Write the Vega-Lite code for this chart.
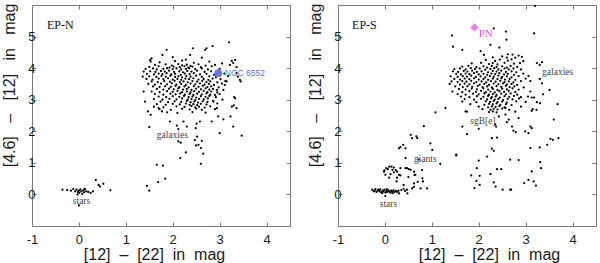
{
"$schema":"https://vega.github.io/schema/vega-lite/v6.json",
"padding":{"left":1,"top":2,"right":0,"bottom":0},
"spacing":16,
"background":"white",
"config":{"view":{"stroke":"#7a7a7a","strokeWidth":1},
"axis":{"grid":false,"domain":false,"tickSize":-4,"tickColor":"#7a7a7a","labelFont":"Liberation Sans","labelFontSize":13,"labelColor":"#1a1a1a","titleFont":"Liberation Sans","titleFontSize":16,"titleFontWeight":"normal","titleColor":"#1a1a1a","labelFlush":false,"labelOverlap":false,"labelBound":false}},
"datasets":{
"n":[
{"x":-0.35,"y":0.15},{"x":-0.25,"y":0.14},{"x":-0.17,"y":0.12},{"x":-0.12,"y":0.17},{"x":-0.08,"y":0.1},{"x":-0.05,"y":0.15},{"x":-0.02,"y":0.08},{"x":0.0,"y":0.12},{"x":0.01,"y":0.05},{"x":0.03,"y":0.16},{"x":0.05,"y":0.1},{"x":0.07,"y":0.02},{"x":0.09,"y":0.13},{"x":0.11,"y":0.07},{"x":0.13,"y":0.16},{"x":0.16,"y":0.1},{"x":0.2,"y":0.08},{"x":0.25,"y":0.05},{"x":0.3,"y":0.1},{"x":0.36,"y":0.46},{"x":0.45,"y":0.25},{"x":0.52,"y":0.34},{"x":0.67,"y":0.13},{"x":0.0,"y":-0.35},{"x":-0.03,"y":0.0},{"x":0.12,"y":0.18},{"x":0.42,"y":0.3},
{"x":1.45,"y":0.27},{"x":1.5,"y":0.12},{"x":1.66,"y":0.94},{"x":1.79,"y":0.91},{"x":1.69,"y":0.39},{"x":1.84,"y":0.5},{"x":2.16,"y":1.15},{"x":2.28,"y":1.33},{"x":2.6,"y":0.97},{"x":2.65,"y":1.29},{"x":2.5,"y":1.55},{"x":2.47,"y":1.72},{"x":2.55,"y":1.57},{"x":2.52,"y":1.83},{"x":2.62,"y":1.7},{"x":2.12,"y":1.68},{"x":2.17,"y":1.64},{"x":2.6,"y":1.47},
{"x":3.2,"y":4.82},{"x":2.85,"y":4.7},{"x":2.72,"y":4.63},{"x":2.69,"y":4.58},{"x":2.43,"y":4.63},{"x":1.87,"y":4.58},{"x":1.78,"y":4.42},{"x":2.37,"y":4.42},{"x":1.52,"y":4.26},{"x":1.53,"y":4.21},{"x":1.38,"y":3.89},{"x":1.36,"y":3.73},{"x":1.38,"y":3.26},{"x":1.41,"y":2.94},{"x":1.47,"y":2.63},{"x":1.53,"y":2.52},{"x":1.5,"y":2.13},{"x":1.77,"y":2.63},{"x":1.7,"y":2.73},{"x":1.94,"y":2.31},{"x":2.09,"y":2.18},{"x":2.12,"y":2.07},{"x":2.23,"y":2.31},{"x":2.3,"y":2.15},{"x":2.49,"y":2.1},{"x":2.51,"y":2.24},{"x":2.58,"y":2.31},{"x":2.83,"y":2.31},{"x":3.08,"y":2.38},{"x":3.23,"y":2.47},{"x":3.29,"y":2.15},{"x":3.47,"y":1.86},{"x":3.26,"y":2.78},{"x":3.3,"y":2.82},{"x":3.36,"y":2.73},{"x":3.33,"y":3.05},{"x":3.43,"y":3.63},{"x":3.45,"y":3.58},{"x":3.39,"y":3.73},{"x":3.36,"y":3.84},{"x":3.29,"y":4.16},{"x":3.26,"y":4.23},{"x":3.33,"y":4.26},{"x":3.22,"y":4.1},{"x":3.36,"y":4.03},{"x":3.15,"y":3.58},{"x":3.11,"y":3.47},{"x":3.08,"y":3.31},{"x":2.94,"y":3.31},{"x":2.9,"y":3.15},{"x":2.87,"y":2.94},{"x":3.0,"y":1.94},{"x":2.97,"y":2.47},{"x":2.94,"y":2.73},{"x":3.31,"y":3.08},
{"x":1.55,"y":4.31},{"x":2.28,"y":4.27},{"x":2.62,"y":4.33},{"x":2.0,"y":4.35},
{"x":1.72,"y":4.18},{"x":2.05,"y":4.22},{"x":2.45,"y":4.17},{"x":2.78,"y":4.21},{"x":3.05,"y":4.15},{"x":2.2,"y":4.24},
{"x":1.62,"y":4.1},{"x":1.85,"y":4.12},{"x":1.98,"y":4.08},{"x":2.12,"y":4.13},{"x":2.2,"y":4.09},{"x":2.3,"y":4.11},{"x":2.38,"y":4.07},{"x":2.55,"y":4.12},{"x":2.7,"y":4.08},{"x":2.9,"y":4.1},
{"x":1.5,"y":4.04},{"x":1.7,"y":4.06},{"x":1.93,"y":4.02},{"x":2.02,"y":4.05},{"x":2.15,"y":4.03},{"x":2.25,"y":4.06},{"x":2.33,"y":4.02},{"x":2.42,"y":4.05},{"x":2.6,"y":4.03},{"x":2.83,"y":4.06},
{"x":1.42,"y":3.97},{"x":1.58,"y":3.99},{"x":1.66,"y":3.96},{"x":1.8,"y":3.98},{"x":1.88,"y":4.0},{"x":2.0,"y":3.97},{"x":2.08,"y":3.99},{"x":2.18,"y":3.96},{"x":2.28,"y":3.98},{"x":2.35,"y":4.0},{"x":2.48,"y":3.97},{"x":2.62,"y":3.99},{"x":2.75,"y":3.96},{"x":3.0,"y":3.98},
{"x":1.52,"y":3.9},{"x":1.63,"y":3.88},{"x":1.75,"y":3.91},{"x":1.83,"y":3.89},{"x":1.92,"y":3.92},{"x":2.03,"y":3.88},{"x":2.14,"y":3.9},{"x":2.22,"y":3.87},{"x":2.31,"y":3.91},{"x":2.4,"y":3.89},{"x":2.52,"y":3.92},{"x":2.68,"y":3.88},{"x":2.82,"y":3.9},{"x":2.95,"y":3.86},
{"x":1.45,"y":3.82},{"x":1.6,"y":3.8},{"x":1.7,"y":3.83},{"x":1.78,"y":3.81},{"x":1.87,"y":3.84},{"x":1.97,"y":3.8},{"x":2.05,"y":3.82},{"x":2.17,"y":3.79},{"x":2.26,"y":3.83},{"x":2.36,"y":3.81},{"x":2.45,"y":3.84},{"x":2.58,"y":3.8},{"x":2.72,"y":3.82},{"x":2.88,"y":3.79},{"x":3.1,"y":3.83},
{"x":1.5,"y":3.74},{"x":1.65,"y":3.72},{"x":1.76,"y":3.75},{"x":1.85,"y":3.73},{"x":1.95,"y":3.76},{"x":2.05,"y":3.72},{"x":2.12,"y":3.74},{"x":2.2,"y":3.71},{"x":2.29,"y":3.75},{"x":2.38,"y":3.73},{"x":2.5,"y":3.76},{"x":2.62,"y":3.72},{"x":2.78,"y":3.74},{"x":2.92,"y":3.71},{"x":3.18,"y":3.75},
{"x":1.44,"y":3.66},{"x":1.57,"y":3.64},{"x":1.7,"y":3.67},{"x":1.8,"y":3.65},{"x":1.9,"y":3.68},{"x":2.0,"y":3.64},{"x":2.1,"y":3.66},{"x":2.18,"y":3.63},{"x":2.27,"y":3.67},{"x":2.35,"y":3.65},{"x":2.44,"y":3.68},{"x":2.55,"y":3.64},{"x":2.66,"y":3.66},{"x":2.76,"y":3.63},{"x":2.85,"y":3.67},{"x":3.02,"y":3.65},
{"x":1.55,"y":3.58},{"x":1.68,"y":3.56},{"x":1.82,"y":3.59},{"x":1.94,"y":3.57},{"x":2.04,"y":3.6},{"x":2.15,"y":3.56},{"x":2.23,"y":3.58},{"x":2.32,"y":3.55},{"x":2.42,"y":3.59},{"x":2.52,"y":3.57},{"x":2.63,"y":3.6},{"x":2.72,"y":3.56},{"x":2.8,"y":3.58},{"x":2.95,"y":3.55},{"x":3.12,"y":3.59},
{"x":1.48,"y":3.5},{"x":1.62,"y":3.48},{"x":1.75,"y":3.51},{"x":1.88,"y":3.49},{"x":1.98,"y":3.52},{"x":2.08,"y":3.48},{"x":2.18,"y":3.5},{"x":2.28,"y":3.47},{"x":2.38,"y":3.51},{"x":2.48,"y":3.49},{"x":2.58,"y":3.52},{"x":2.68,"y":3.48},{"x":2.77,"y":3.5},{"x":2.88,"y":3.47},{"x":3.05,"y":3.51},
{"x":1.58,"y":3.42},{"x":1.72,"y":3.4},{"x":1.84,"y":3.43},{"x":1.96,"y":3.41},{"x":2.06,"y":3.44},{"x":2.14,"y":3.4},{"x":2.25,"y":3.42},{"x":2.34,"y":3.39},{"x":2.45,"y":3.43},{"x":2.55,"y":3.41},{"x":2.64,"y":3.44},{"x":2.74,"y":3.4},{"x":2.82,"y":3.42},{"x":2.98,"y":3.39},
{"x":1.66,"y":3.34},{"x":1.8,"y":3.32},{"x":1.92,"y":3.35},{"x":2.02,"y":3.33},{"x":2.12,"y":3.36},{"x":2.22,"y":3.32},{"x":2.3,"y":3.34},{"x":2.4,"y":3.31},{"x":2.5,"y":3.35},{"x":2.6,"y":3.33},{"x":2.7,"y":3.36},{"x":2.78,"y":3.32},{"x":2.86,"y":3.34},
{"x":1.55,"y":3.26},{"x":1.72,"y":3.24},{"x":1.88,"y":3.27},{"x":2.0,"y":3.25},{"x":2.1,"y":3.28},{"x":2.2,"y":3.24},{"x":2.3,"y":3.26},{"x":2.38,"y":3.23},{"x":2.46,"y":3.27},{"x":2.56,"y":3.25},{"x":2.66,"y":3.28},{"x":2.74,"y":3.24},{"x":2.82,"y":3.26},{"x":2.95,"y":3.23},
{"x":1.62,"y":3.18},{"x":1.8,"y":3.16},{"x":1.95,"y":3.19},{"x":2.06,"y":3.17},{"x":2.16,"y":3.2},{"x":2.26,"y":3.16},{"x":2.36,"y":3.18},{"x":2.44,"y":3.15},{"x":2.52,"y":3.19},{"x":2.62,"y":3.17},{"x":2.72,"y":3.2},{"x":2.8,"y":3.16},{"x":3.0,"y":3.18},
{"x":1.7,"y":3.1},{"x":1.86,"y":3.08},{"x":2.0,"y":3.11},{"x":2.14,"y":3.09},{"x":2.24,"y":3.12},{"x":2.34,"y":3.08},{"x":2.42,"y":3.1},{"x":2.5,"y":3.07},{"x":2.6,"y":3.11},{"x":2.7,"y":3.09},{"x":2.78,"y":3.12},{"x":2.92,"y":3.08},
{"x":1.6,"y":3.02},{"x":1.78,"y":3.0},{"x":1.93,"y":3.03},{"x":2.08,"y":3.01},{"x":2.2,"y":3.04},{"x":2.32,"y":3.0},{"x":2.4,"y":3.02},{"x":2.48,"y":2.99},{"x":2.56,"y":3.03},{"x":2.66,"y":3.01},{"x":2.75,"y":3.04},{"x":3.06,"y":3.0},
{"x":1.74,"y":2.94},{"x":1.9,"y":2.92},{"x":2.04,"y":2.95},{"x":2.18,"y":2.93},{"x":2.3,"y":2.96},{"x":2.38,"y":2.92},{"x":2.46,"y":2.94},{"x":2.54,"y":2.91},{"x":2.64,"y":2.95},{"x":2.74,"y":2.93},{"x":2.86,"y":2.96},
{"x":1.66,"y":2.86},{"x":1.85,"y":2.84},{"x":2.0,"y":2.87},{"x":2.15,"y":2.85},{"x":2.28,"y":2.88},{"x":2.36,"y":2.84},{"x":2.44,"y":2.86},{"x":2.52,"y":2.83},{"x":2.6,"y":2.87},{"x":2.72,"y":2.85},{"x":2.95,"y":2.88},
{"x":1.6,"y":2.78},{"x":1.8,"y":2.76},{"x":2.08,"y":2.79},{"x":2.25,"y":2.77},{"x":2.4,"y":2.8},{"x":2.48,"y":2.76},{"x":2.56,"y":2.78},{"x":2.68,"y":2.75},{"x":2.8,"y":2.79},
{"x":1.72,"y":2.7},{"x":1.96,"y":2.68},{"x":2.2,"y":2.71},{"x":2.36,"y":2.69},{"x":2.5,"y":2.72},{"x":2.62,"y":2.68},{"x":2.9,"y":2.7},
{"x":1.88,"y":2.6},{"x":2.1,"y":2.58},{"x":2.42,"y":2.61},{"x":2.7,"y":2.59}
],
"s":[
{"x":-0.27,"y":0.15},{"x":-0.24,"y":0.1},{"x":-0.2,"y":0.17},{"x":-0.18,"y":0.08},{"x":-0.15,"y":0.13},{"x":-0.12,"y":0.1},{"x":-0.1,"y":0.16},{"x":-0.08,"y":0.07},{"x":-0.05,"y":0.12},{"x":-0.03,"y":0.09},{"x":-0.01,"y":0.15},{"x":0.01,"y":0.06},{"x":0.03,"y":0.11},{"x":0.05,"y":0.08},{"x":0.07,"y":0.14},{"x":0.09,"y":0.1},{"x":0.11,"y":0.06},{"x":0.13,"y":0.12},{"x":0.15,"y":0.09},{"x":0.18,"y":0.13},{"x":0.2,"y":0.07},{"x":0.23,"y":0.11},{"x":0.26,"y":0.08},{"x":0.29,"y":0.12},{"x":-0.22,"y":0.12},{"x":-0.06,"y":0.04},{"x":0.04,"y":0.17},{"x":0.16,"y":0.04},{"x":0.01,"y":-0.05},{"x":-0.13,"y":0.15},{"x":0.35,"y":0.14},{"x":0.3,"y":0.03},{"x":0.43,"y":0.11},{"x":0.48,"y":0.03},
{"x":-0.02,"y":0.72},{"x":0.03,"y":0.83},{"x":0.09,"y":0.88},{"x":0.14,"y":0.88},{"x":0.19,"y":0.85},{"x":0.23,"y":0.77},{"x":0.26,"y":0.72},{"x":0.3,"y":0.62},{"x":0.01,"y":0.62},{"x":0.12,"y":0.64},{"x":0.19,"y":0.7},{"x":0.09,"y":0.53},{"x":0.26,"y":0.53},{"x":-0.01,"y":0.76},{"x":0.06,"y":0.8},{"x":0.16,"y":0.78},
{"x":0.44,"y":1.15},{"x":0.33,"y":0.83},{"x":0.44,"y":0.83},{"x":0.51,"y":0.8},{"x":0.62,"y":0.72},{"x":0.63,"y":0.62},{"x":0.79,"y":0.77},{"x":0.8,"y":0.51},{"x":0.76,"y":0.19},{"x":0.9,"y":0.19},{"x":0.62,"y":0.35},{"x":0.62,"y":0.24},{"x":0.58,"y":0.19},{"x":0.3,"y":1.46},{"x":0.33,"y":1.5},{"x":0.44,"y":1.46},{"x":0.55,"y":1.89},{"x":0.58,"y":1.78},{"x":0.69,"y":1.78},{"x":0.83,"y":2.16},{"x":0.97,"y":1.62},{"x":1.01,"y":1.41},{"x":1.18,"y":0.97},{"x":1.08,"y":2.6},{"x":1.29,"y":2.74},{"x":1.52,"y":1.23},{"x":0.5,"y":0.55},{"x":0.4,"y":0.3},{"x":0.7,"y":0.4},
{"x":0.67,"y":1.84},{"x":0.39,"y":1.57},{"x":0.47,"y":0.83},{"x":0.55,"y":0.78},{"x":0.65,"y":0.62},{"x":0.81,"y":0.41},{"x":0.4,"y":0.18},{"x":0.47,"y":0.15},{"x":0.25,"y":0.41},{"x":0.72,"y":1.1},{"x":0.33,"y":0.6},
{"x":3.2,"y":5.97},{"x":1.43,"y":5.03},{"x":1.45,"y":4.68},{"x":2.32,"y":5.26},{"x":2.58,"y":5.16},{"x":3.18,"y":5.1},{"x":2.59,"y":4.9},{"x":2.44,"y":4.65},{"x":2.25,"y":4.74},{"x":2.04,"y":4.54},{"x":1.65,"y":4.58},{"x":2.11,"y":4.42},{"x":2.6,"y":4.33},{"x":3.24,"y":4.16},{"x":3.3,"y":4.1},{"x":3.35,"y":4.19},{"x":3.06,"y":3.75},{"x":3.1,"y":3.59},{"x":3.3,"y":3.66},{"x":3.35,"y":3.52},{"x":3.51,"y":3.31},{"x":3.37,"y":3.17},{"x":3.68,"y":2.86},{"x":3.24,"y":2.92},{"x":3.31,"y":2.89},{"x":3.13,"y":3.07},{"x":3.18,"y":3.07},{"x":3.13,"y":2.65},{"x":3.23,"y":2.68},{"x":3.6,"y":2.37},{"x":3.1,"y":2.15},{"x":3.7,"y":1.78},{"x":3.58,"y":1.73},{"x":3.53,"y":1.76},{"x":3.46,"y":1.57},{"x":3.3,"y":1.49},{"x":3.1,"y":1.47},{"x":2.67,"y":1.1},{"x":3.31,"y":1.02},{"x":3.33,"y":0.83},{"x":3.13,"y":0.73},{"x":2.97,"y":0.36},{"x":3.06,"y":0.46},{"x":3.17,"y":0.41},{"x":3.22,"y":0.28},{"x":2.69,"y":0.15},
{"x":1.65,"y":2.15},{"x":1.75,"y":1.91},{"x":2.0,"y":2.08},{"x":2.35,"y":2.22},{"x":2.37,"y":2.15},{"x":2.6,"y":2.29},{"x":2.71,"y":2.15},{"x":2.74,"y":2.02},{"x":2.79,"y":1.97},{"x":2.28,"y":1.78},{"x":2.39,"y":1.8},{"x":1.52,"y":1.26},{"x":2.28,"y":1.45},{"x":2.32,"y":1.38},{"x":2.18,"y":1.2},{"x":2.0,"y":1.07},{"x":1.96,"y":0.83},{"x":1.84,"y":0.6},{"x":2.02,"y":0.59},{"x":2.25,"y":0.64},{"x":2.39,"y":0.8},{"x":2.48,"y":0.8},{"x":1.95,"y":0.43},{"x":2.02,"y":0.3},{"x":1.91,"y":0.2},{"x":2.32,"y":0.38},{"x":2.36,"y":0.25},{"x":2.51,"y":0.15},{"x":2.67,"y":0.15},{"x":1.72,"y":2.63},{"x":2.43,"y":2.47},{"x":2.57,"y":2.53},{"x":2.64,"y":2.37},{"x":2.85,"y":2.42},{"x":2.99,"y":2.0},{"x":3.06,"y":1.94},{"x":3.13,"y":2.1},{"x":2.57,"y":2.74},{"x":2.85,"y":1.09},
{"x":2.72,"y":4.43},{"x":2.85,"y":4.4},{"x":2.62,"y":4.44},
{"x":2.3,"y":4.34},{"x":2.5,"y":4.37},{"x":2.78,"y":4.33},{"x":2.92,"y":4.36},
{"x":2.15,"y":4.26},{"x":2.35,"y":4.23},{"x":2.45,"y":4.27},{"x":2.62,"y":4.24},{"x":2.7,"y":4.28},{"x":2.95,"y":4.22},
{"x":1.85,"y":4.15},{"x":2.05,"y":4.17},{"x":2.22,"y":4.13},{"x":2.3,"y":4.16},{"x":2.4,"y":4.12},{"x":2.55,"y":4.17},{"x":2.75,"y":4.14},{"x":2.88,"y":4.16},
{"x":1.65,"y":4.05},{"x":1.78,"y":4.07},{"x":1.95,"y":4.03},{"x":2.1,"y":4.06},{"x":2.18,"y":4.02},{"x":2.28,"y":4.07},{"x":2.38,"y":4.04},{"x":2.5,"y":4.06},{"x":2.6,"y":4.02},{"x":2.68,"y":4.07},{"x":2.82,"y":4.04},
{"x":1.48,"y":3.97},{"x":1.6,"y":3.99},{"x":1.72,"y":3.96},{"x":1.83,"y":4.0},{"x":1.92,"y":3.97},{"x":2.02,"y":3.99},{"x":2.14,"y":3.95},{"x":2.25,"y":3.98},{"x":2.33,"y":4.0},{"x":2.42,"y":3.96},{"x":2.55,"y":3.99},{"x":2.64,"y":3.96},{"x":2.74,"y":3.99},{"x":2.9,"y":3.96},
{"x":1.45,"y":3.9},{"x":1.56,"y":3.88},{"x":1.68,"y":3.91},{"x":1.76,"y":3.89},{"x":1.86,"y":3.92},{"x":1.96,"y":3.88},{"x":2.06,"y":3.9},{"x":2.2,"y":3.87},{"x":2.3,"y":3.91},{"x":2.38,"y":3.89},{"x":2.48,"y":3.92},{"x":2.58,"y":3.88},{"x":2.7,"y":3.9},{"x":2.8,"y":3.87},
{"x":1.52,"y":3.82},{"x":1.62,"y":3.8},{"x":1.72,"y":3.83},{"x":1.8,"y":3.81},{"x":1.9,"y":3.84},{"x":2.0,"y":3.8},{"x":2.1,"y":3.82},{"x":2.18,"y":3.79},{"x":2.27,"y":3.83},{"x":2.35,"y":3.81},{"x":2.44,"y":3.84},{"x":2.54,"y":3.8},{"x":2.62,"y":3.82},{"x":2.75,"y":3.79},{"x":2.95,"y":3.83},
{"x":1.4,"y":3.74},{"x":1.55,"y":3.72},{"x":1.66,"y":3.75},{"x":1.75,"y":3.73},{"x":1.84,"y":3.76},{"x":1.94,"y":3.72},{"x":2.04,"y":3.74},{"x":2.14,"y":3.71},{"x":2.24,"y":3.75},{"x":2.32,"y":3.73},{"x":2.42,"y":3.76},{"x":2.5,"y":3.72},{"x":2.6,"y":3.74},{"x":2.7,"y":3.71},{"x":2.85,"y":3.75},
{"x":1.48,"y":3.66},{"x":1.6,"y":3.64},{"x":1.7,"y":3.67},{"x":1.8,"y":3.65},{"x":1.9,"y":3.68},{"x":2.0,"y":3.64},{"x":2.1,"y":3.66},{"x":2.2,"y":3.63},{"x":2.3,"y":3.67},{"x":2.4,"y":3.65},{"x":2.48,"y":3.68},{"x":2.56,"y":3.64},{"x":2.66,"y":3.66},{"x":2.78,"y":3.63},{"x":3.0,"y":3.67},
{"x":1.42,"y":3.58},{"x":1.55,"y":3.56},{"x":1.65,"y":3.59},{"x":1.74,"y":3.57},{"x":1.84,"y":3.6},{"x":1.95,"y":3.56},{"x":2.06,"y":3.58},{"x":2.16,"y":3.55},{"x":2.26,"y":3.59},{"x":2.36,"y":3.57},{"x":2.46,"y":3.6},{"x":2.55,"y":3.56},{"x":2.64,"y":3.58},{"x":2.74,"y":3.55},{"x":2.9,"y":3.59},
{"x":1.38,"y":3.5},{"x":1.6,"y":3.48},{"x":1.7,"y":3.51},{"x":1.8,"y":3.49},{"x":1.9,"y":3.52},{"x":2.02,"y":3.48},{"x":2.12,"y":3.5},{"x":2.22,"y":3.47},{"x":2.32,"y":3.51},{"x":2.42,"y":3.49},{"x":2.52,"y":3.52},{"x":2.6,"y":3.48},{"x":2.7,"y":3.5},{"x":2.82,"y":3.47},
{"x":1.5,"y":3.42},{"x":1.66,"y":3.4},{"x":1.76,"y":3.43},{"x":1.86,"y":3.41},{"x":1.98,"y":3.44},{"x":2.08,"y":3.4},{"x":2.18,"y":3.42},{"x":2.28,"y":3.39},{"x":2.38,"y":3.43},{"x":2.48,"y":3.41},{"x":2.58,"y":3.44},{"x":2.66,"y":3.4},{"x":2.76,"y":3.42},{"x":2.96,"y":3.39},
{"x":1.58,"y":3.34},{"x":1.72,"y":3.32},{"x":1.85,"y":3.35},{"x":1.96,"y":3.33},{"x":2.1,"y":3.36},{"x":2.2,"y":3.32},{"x":2.3,"y":3.34},{"x":2.4,"y":3.31},{"x":2.5,"y":3.35},{"x":2.6,"y":3.33},{"x":2.72,"y":3.36},{"x":2.85,"y":3.32},
{"x":1.44,"y":3.26},{"x":1.65,"y":3.24},{"x":1.8,"y":3.27},{"x":1.94,"y":3.25},{"x":2.05,"y":3.28},{"x":2.15,"y":3.24},{"x":2.25,"y":3.26},{"x":2.34,"y":3.23},{"x":2.44,"y":3.27},{"x":2.54,"y":3.25},{"x":2.64,"y":3.28},{"x":2.78,"y":3.24},{"x":3.1,"y":3.26},
{"x":1.55,"y":3.18},{"x":1.72,"y":3.16},{"x":1.88,"y":3.19},{"x":2.0,"y":3.17},{"x":2.12,"y":3.2},{"x":2.22,"y":3.16},{"x":2.3,"y":3.18},{"x":2.38,"y":3.15},{"x":2.48,"y":3.19},{"x":2.58,"y":3.17},{"x":2.68,"y":3.2},{"x":2.82,"y":3.16},
{"x":1.62,"y":3.1},{"x":1.8,"y":3.08},{"x":1.96,"y":3.11},{"x":2.1,"y":3.09},{"x":2.2,"y":3.12},{"x":2.28,"y":3.08},{"x":2.36,"y":3.1},{"x":2.45,"y":3.07},{"x":2.55,"y":3.11},{"x":2.65,"y":3.09},{"x":2.75,"y":3.12},{"x":2.9,"y":3.08},{"x":3.05,"y":3.1},
{"x":1.7,"y":3.02},{"x":1.9,"y":3.0},{"x":2.05,"y":3.03},{"x":2.18,"y":3.01},{"x":2.26,"y":3.04},{"x":2.34,"y":3.0},{"x":2.42,"y":3.02},{"x":2.52,"y":2.99},{"x":2.62,"y":3.03},{"x":2.72,"y":3.01},{"x":2.86,"y":3.04},
{"x":1.65,"y":2.94},{"x":1.95,"y":2.92},{"x":2.15,"y":2.95},{"x":2.24,"y":2.93},{"x":2.32,"y":2.96},{"x":2.4,"y":2.92},{"x":2.5,"y":2.94},{"x":2.6,"y":2.91},{"x":2.8,"y":2.95},{"x":3.0,"y":2.93},
{"x":1.82,"y":2.86},{"x":2.12,"y":2.84},{"x":2.22,"y":2.87},{"x":2.3,"y":2.85},{"x":2.38,"y":2.88},{"x":2.46,"y":2.84},{"x":2.58,"y":2.86},{"x":2.7,"y":2.83},
{"x":2.0,"y":2.78},{"x":2.2,"y":2.76},{"x":2.28,"y":2.79},{"x":2.36,"y":2.77},{"x":2.44,"y":2.8},{"x":2.55,"y":2.76},{"x":2.9,"y":2.78},
{"x":2.08,"y":2.7},{"x":2.25,"y":2.68},{"x":2.32,"y":2.71},{"x":2.4,"y":2.69},{"x":2.5,"y":2.72},{"x":2.65,"y":2.68},{"x":3.15,"y":2.7},
{"x":1.75,"y":2.62},{"x":2.22,"y":2.61},{"x":2.3,"y":2.63},{"x":2.38,"y":2.6},{"x":2.78,"y":2.62}
],
"sp":[{"p":"N","x":2.97,"y":3.84},{"p":"S","x":1.91,"y":5.29}],
"lab":[
{"p":"N","k":"title","x":-0.68,"y":5.37,"t":"EP-N"},
{"p":"N","k":"note","x":1.66,"y":1.89,"t":"galaxies"},
{"p":"N","k":"note","x":-0.13,"y":-0.22,"t":"stars"},
{"p":"N","k":"ngc","x":3.11,"y":3.84,"t":"NGC 6552"},
{"p":"S","k":"title","x":-0.7,"y":5.37,"t":"EP-S"},
{"p":"S","k":"pn","x":2.0,"y":5.07,"t":"PN"},
{"p":"S","k":"note","x":3.35,"y":3.89,"t":"galaxies"},
{"p":"S","k":"note","x":1.82,"y":2.34,"t":"sgB[e]"},
{"p":"S","k":"note","x":0.62,"y":1.11,"t":"giants"},
{"p":"S","k":"note","x":-0.11,"y":-0.29,"t":"stars"}
]
},
"hconcat":[
{"width":258,"height":221,
"resolve":{"axis":{"x":"independent","y":"independent"}},
"encoding":{
"x":{"field":"x","type":"quantitative","scale":{"domain":[-1,4.5],"nice":false,"zero":false},"axis":null},
"y":{"field":"y","type":"quantitative","scale":{"domain":[-1,6],"nice":false,"zero":false},"axis":null}},
"layer":[
{"data":{"name":"n"},"mark":{"type":"circle","size":5,"color":"black","opacity":1},
"encoding":{
"x":{"field":"x","type":"quantitative","scale":{"domain":[-1,4.5],"nice":false,"zero":false},"axis":{"orient":"bottom","values":[-1,0,1,2,3,4],"labelExpr":"'' + datum.value","labelPadding":11,"title":"[12]\u00a0\u00a0–\u00a0\u00a0[22]\u00a0\u00a0in\u00a0\u00a0mag","titlePadding":0,"titleX":122}},
"y":{"field":"y","type":"quantitative","scale":{"domain":[-1,6],"nice":false,"zero":false},"axis":{"orient":"left","values":[0,1,2,3,4,5],"labelPadding":1,"title":"[4.6]\u00a0\u00a0\u00a0–\u00a0\u00a0\u00a0[12]\u00a0\u00a0\u00a0in\u00a0\u00a0\u00a0mag","titlePadding":10,"titleY":80}}}},
{"data":{"name":"sp"},"transform":[{"filter":"datum.p=='N'"}],"mark":{"type":"circle","size":60,"color":"#6478e6","opacity":1}},
{"data":{"name":"lab"},"transform":[{"filter":"datum.p=='N' && datum.k=='title'"}],"mark":{"type":"text","font":"Liberation Serif","fontSize":12,"color":"#111","align":"left","baseline":"middle"},"encoding":{"text":{"field":"t"}}},
{"data":{"name":"lab"},"transform":[{"filter":"datum.p=='N' && datum.k=='note'"}],"mark":{"type":"text","font":"Liberation Serif","fontSize":9.5,"color":"#444","align":"left","baseline":"middle"},"encoding":{"text":{"field":"t"}}},
{"data":{"name":"lab"},"transform":[{"filter":"datum.p=='N' && datum.k=='ngc'"}],"mark":{"type":"text","font":"Liberation Sans","fontSize":8.5,"color":"#5b70e0","align":"left","baseline":"middle"},"encoding":{"text":{"field":"t"}}},
{"data":{"name":"sp"},"transform":[{"filter":"datum.p=='N'"}],"mark":{"type":"circle","size":1,"opacity":0},
"encoding":{
"x":{"field":"x","type":"quantitative","scale":{"domain":[-1,4.5],"nice":false,"zero":false},"axis":{"orient":"top","values":[-1,0,1,2,3,4],"labels":false,"title":null}},
"y":{"field":"y","type":"quantitative","scale":{"domain":[-1,6],"nice":false,"zero":false},"axis":{"orient":"right","values":[0,1,2,3,4,5],"labels":false,"title":null}}}}
]},
{"width":258,"height":221,
"resolve":{"axis":{"x":"independent","y":"independent"}},
"encoding":{
"x":{"field":"x","type":"quantitative","scale":{"domain":[-1,4.5],"nice":false,"zero":false},"axis":null},
"y":{"field":"y","type":"quantitative","scale":{"domain":[-1,6],"nice":false,"zero":false},"axis":null}},
"layer":[
{"data":{"name":"s"},"mark":{"type":"circle","size":5,"color":"black","opacity":1},
"encoding":{
"x":{"field":"x","type":"quantitative","scale":{"domain":[-1,4.5],"nice":false,"zero":false},"axis":{"orient":"bottom","values":[-1,0,1,2,3,4],"labelExpr":"'' + datum.value","labelPadding":11,"title":"[12]\u00a0\u00a0–\u00a0\u00a0[22]\u00a0\u00a0in\u00a0\u00a0mag","titlePadding":0,"titleX":151}},
"y":{"field":"y","type":"quantitative","scale":{"domain":[-1,6],"nice":false,"zero":false},"axis":{"orient":"left","values":[0,1,2,3,4,5],"labelPadding":1,"title":"[4.6]\u00a0\u00a0\u00a0–\u00a0\u00a0\u00a0[12]\u00a0\u00a0\u00a0in\u00a0\u00a0\u00a0mag","titlePadding":10,"titleY":80}}}},
{"data":{"name":"sp"},"transform":[{"filter":"datum.p=='S'"}],"mark":{"type":"point","shape":"diamond","filled":true,"size":70,"color":"#e87ee8","opacity":1}},
{"data":{"name":"lab"},"transform":[{"filter":"datum.p=='S' && datum.k=='title'"}],"mark":{"type":"text","font":"Liberation Serif","fontSize":12,"color":"#111","align":"left","baseline":"middle"},"encoding":{"text":{"field":"t"}}},
{"data":{"name":"lab"},"transform":[{"filter":"datum.p=='S' && datum.k=='note'"}],"mark":{"type":"text","font":"Liberation Serif","fontSize":9.5,"color":"#444","align":"left","baseline":"middle"},"encoding":{"text":{"field":"t"}}},
{"data":{"name":"lab"},"transform":[{"filter":"datum.p=='S' && datum.k=='pn'"}],"mark":{"type":"text","font":"Liberation Serif","fontSize":11,"color":"#d85ad8","align":"left","baseline":"middle"},"encoding":{"text":{"field":"t"}}},
{"data":{"name":"sp"},"transform":[{"filter":"datum.p=='S'"}],"mark":{"type":"circle","size":1,"opacity":0},
"encoding":{
"x":{"field":"x","type":"quantitative","scale":{"domain":[-1,4.5],"nice":false,"zero":false},"axis":{"orient":"top","values":[-1,0,1,2,3,4],"labels":false,"title":null}},
"y":{"field":"y","type":"quantitative","scale":{"domain":[-1,6],"nice":false,"zero":false},"axis":{"orient":"right","values":[0,1,2,3,4,5],"labels":false,"title":null}}}}
]}
]
}
